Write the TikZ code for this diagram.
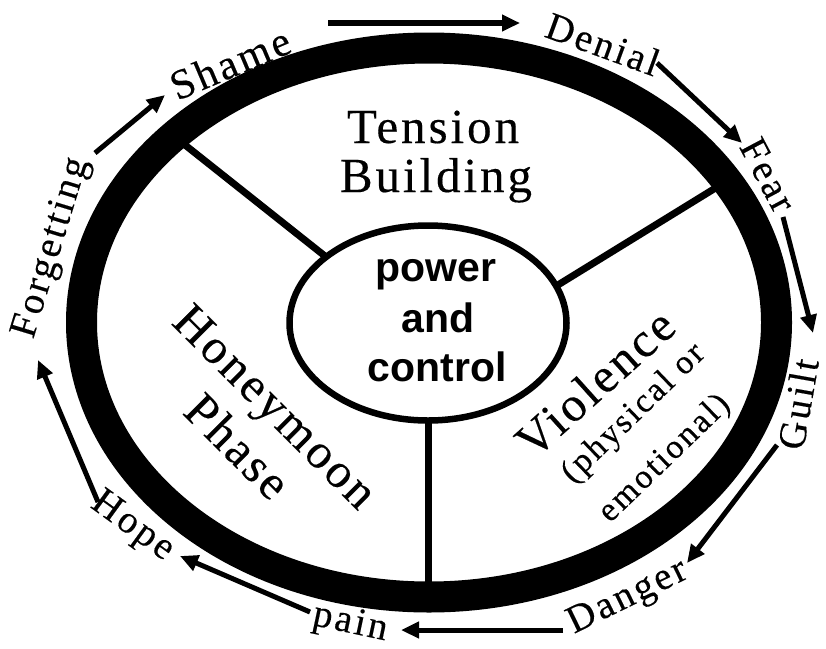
\documentclass[tikz,border=0pt]{standalone}
\usepackage{fontspec}
\setmainfont{Liberation Serif}[FakeBold=0.3]
\newfontfamily\coresans{Liberation Sans}
\usetikzlibrary{arrows.meta}
\begin{document}
\begin{tikzpicture}[x=1pt,y=-1pt,
  ring/.style={line width=31pt},
  spoke/.style={line width=7pt},
  flow/.style={line width=5pt,-{Triangle[length=18pt,width=16pt]}},
  outerlbl/.style={inner sep=0pt,font=\fontsize{39}{41}\selectfont\addfontfeature{LetterSpace=7}},
  phase/.style={inner sep=0pt,font=\fontsize{49}{51}\selectfont\addfontfeature{LetterSpace=6}},
  small/.style={inner sep=0pt,font=\fontsize{34}{36}\selectfont\addfontfeature{LetterSpace=7}},
  coretext/.style={inner sep=0pt,font=\coresans\bfseries\fontsize{41}{43}\selectfont},
]
\useasboundingbox (0,0) rectangle (826,648);
\fill[white] (0,0) rectangle (826,648);

% spokes
\coordinate (s1out) at (180,141);
\coordinate (s1in) at (340,268);
\coordinate (s2out) at (722,184);
\coordinate (s2in) at (540,296);
\coordinate (s3out) at (428,595);
\coordinate (s3in) at (428,400);
\draw[spoke] (s1out) -- (s1in);
\draw[spoke] (s2out) -- (s2in);
\draw[spoke] (s3out) -- (s3in);

% ring
\draw[ring] (429,322.5) ellipse [x radius=347.5, y radius=274.5];

% core
\draw[line width=6.5pt, fill=white] (428,323) ellipse [x radius=138.5, y radius=97.5];
\node[coretext, anchor=base] (power) at (436,281) {power};
\node[coretext, anchor=base] (and) at (438,332) {and};
\node[coretext, anchor=base] (control) at (437,381) {control};

% phases
\node[phase, anchor=base] (tension) at (433,143) {Tension};
\node[phase, anchor=base] (building) at (436,192) {Building};
\node[phase, rotate=-45] (honey) at (272,410) {Honeymoon};
\node[phase, rotate=-45] (phasew) at (238,446) {Phase};
\node[phase, rotate=42] (violence) at (595,383) {Violence};
\node[small, rotate=44] (physical) at (634,414) {(physical or};
\node[small, rotate=44] (emotional) at (665,459) {emotional)};

% outer labels
\node[outerlbl, rotate=23, scale=1.08] (shame) at (230,63) {Shame};
\node[outerlbl, rotate=-20] (denial) at (603,44) {Denial};
\node[outerlbl, rotate=-62] (fear) at (768,175) {Fear};
\node[outerlbl, rotate=80] (guilt) at (798,404) {Guilt};
\node[outerlbl, rotate=26] (danger) at (628,598) {Danger};
\node[outerlbl, rotate=-12] (pain) at (350,624) {pain};
\node[outerlbl, rotate=-36] (hope) at (132,527) {Hope};
\node[outerlbl, rotate=73] (forgetting) at (52,248) {Forgetting};

% arrows
\coordinate (a1s) at (95,153);   \coordinate (a1e) at (165,95);
\coordinate (a2s) at (328,23);   \coordinate (a2e) at (520,23);
\coordinate (a3s) at (657,63);   \coordinate (a3e) at (742,143);
\coordinate (a4s) at (783,217);  \coordinate (a4e) at (813,333);
\coordinate (a5s) at (777,445);  \coordinate (a5e) at (687,563);
\coordinate (a6s) at (563,630);  \coordinate (a6e) at (401,630);
\coordinate (a7s) at (310,612);  \coordinate (a7e) at (180,556);
\coordinate (a8s) at (98,502);   \coordinate (a8e) at (38,360);
\draw[flow] (a1s) -- (a1e);
\draw[flow, line width=6pt] (a2s) -- (a2e);
\draw[flow] (a3s) -- (a3e);
\draw[flow] (a4s) -- (a4e);
\draw[flow] (a5s) -- (a5e);
\draw[flow] (a6s) -- (a6e);
\draw[flow] (a7s) -- (a7e);
\draw[flow] (a8s) -- (a8e);
\end{tikzpicture}
\end{document}
